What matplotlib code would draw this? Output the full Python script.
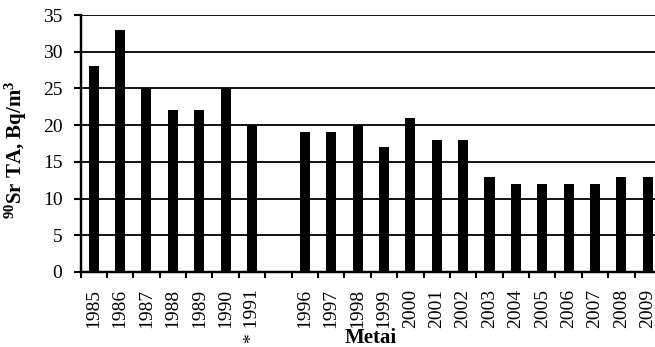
import numpy as np
import matplotlib
matplotlib.use("Agg")
import matplotlib.pyplot as plt

plt.rcParams['font.family'] = ['Liberation Serif', 'DejaVu Serif']
plt.rcParams['mathtext.fontset'] = 'custom'
plt.rcParams['mathtext.rm'] = 'Liberation Serif:bold'
plt.rcParams['mathtext.bf'] = 'Liberation Serif:bold'
plt.rcParams['mathtext.default'] = 'bf'

# Annual 90Sr activity; the blank category marks the break in measurements
years = ['1985', '1986', '1987', '1988', '1989', '1990', '* 1991', '',
         '1996', '1997', '1998', '1999', '2000', '2001', '2002', '2003',
         '2004', '2005', '2006', '2007', '2008', '2009']
sr90 = [28, 33, 25, 22, 22, 25, 20, np.nan,
        19, 19, 20, 17, 21, 18, 18, 13,
        12, 12, 12, 12, 13, 13]
y_ticks = [0, 5, 10, 15, 20, 25, 30, 35]

W, H = 655, 347
fig = plt.figure(figsize=(W / 100, H / 100), dpi=100)
left, right, top, bottom = 80.5, 661.0, 15.0, 272.0
ax = fig.add_axes([left / W, 1 - bottom / H, (right - left) / W, (bottom - top) / H])

x = np.arange(len(years))
ax.bar(x, sr90, width=0.38, color='black', zorder=3)

ax.set_xlim(-0.5, len(years) - 0.5)
ax.set_ylim(0, 35)
ax.set_yticks(y_ticks)
ax.yaxis.grid(True, color='black', linewidth=1.3, zorder=0)
ax.set_axisbelow(True)

ax.set_xticks(x)
ax.set_xticklabels(years, rotation=90, fontsize=14)
ax.set_xticks(np.arange(len(years) + 1) - 0.5, minor=True)
ax.tick_params(axis='x', which='major', length=0, pad=12)
ax.tick_params(axis='x', which='minor', length=4, width=1.5, direction='out')
ax.tick_params(axis='y', which='major', length=5, width=1.5, direction='out',
               labelsize=14, pad=8)

for s in ('top', 'right'):
    ax.spines[s].set_visible(False)
for s in ('left', 'bottom'):
    ax.spines[s].set_linewidth(1.75)

ax.set_ylabel(r'$^{90}$Sr TA, Bq/m$^{3}$', fontsize=15, fontweight='bold')
ax.yaxis.label.set_verticalalignment('center')
ax.yaxis.set_label_coords((15.5 - left) / (right - left), (bottom - 150) / (bottom - top))
ax.set_xlabel('Metai', fontsize=15, fontweight='bold', labelpad=-10.5)

fig.savefig('out.png', dpi=100)
